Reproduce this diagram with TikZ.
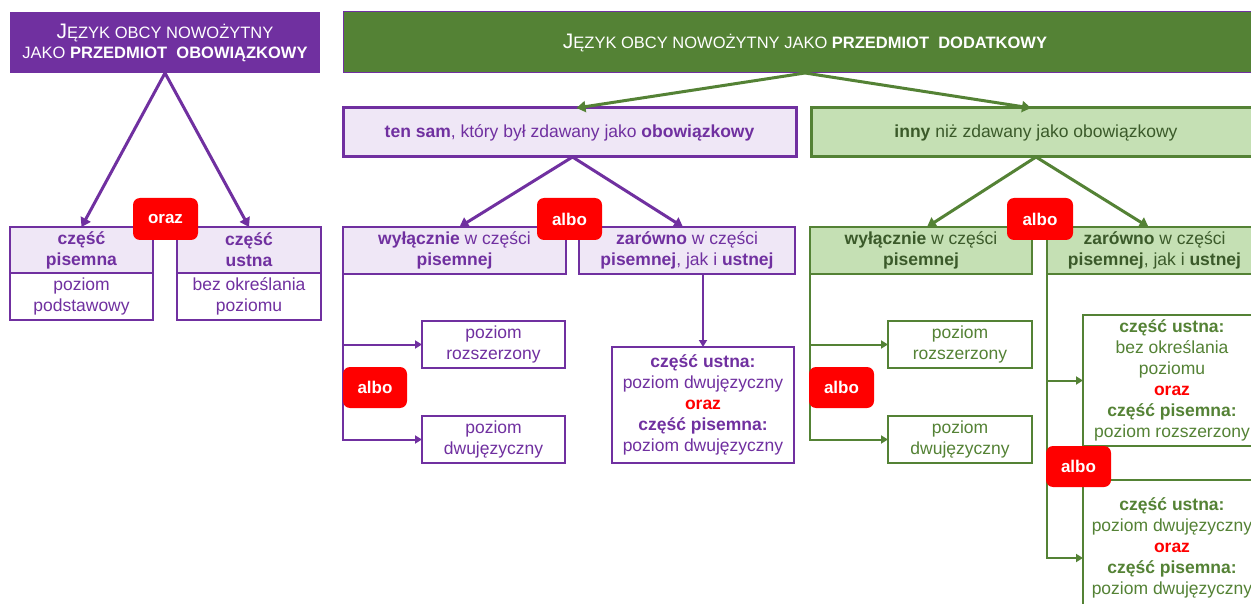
\documentclass[tikz,border=0pt]{standalone}
\usepackage{fontspec}
\setmainfont{Liberation Sans}
\usetikzlibrary{arrows.meta,calc}
\definecolor{pur}{HTML}{7030A0}
\definecolor{grn}{HTML}{548235}
\definecolor{lpur}{HTML}{EFE7F6}
\definecolor{lgrn}{HTML}{C5E0B4}
\definecolor{dgrn}{HTML}{3B5A2A}
\definecolor{redb}{HTML}{FF0000}
\newcommand{\bigJ}{{\fontsize{21}{20}\selectfont J}}
\tikzset{
  base/.style={inner sep=0pt, outer sep=0pt, align=center, anchor=north west,
    font=\fontsize{17.5}{21}\selectfont},
  hdr/.style={base, text=white, font=\fontsize{16.5}{20}\selectfont},
  bigp/.style={base, draw=pur, fill=lpur, text=pur, line width=3pt, font=\fontsize{17.5}{21}\selectfont},
  bigg/.style={base, draw=grn, fill=lgrn, text=dgrn, line width=3pt, font=\fontsize{17.5}{21}\selectfont},
  midp/.style={base, draw=pur, fill=lpur, text=pur, line width=2pt},
  midg/.style={base, draw=grn, fill=lgrn, text=dgrn, line width=2pt},
  smp/.style={base, draw=pur, fill=white, text=pur, line width=1.5pt},
  smg/.style={base, draw=grn, fill=white, text=grn, line width=1.5pt},
  albobox/.style={base, fill=redb, rounded corners=7pt, text=white,
    font=\fontsize{17}{21}\selectfont\bfseries},
  parr/.style={draw=pur, line width=3pt, -{Triangle[length=9pt,width=11pt]}},
  garr/.style={draw=grn, line width=3pt, -{Triangle[length=9pt,width=11pt]}},
  pthin/.style={draw=pur, line width=2pt, -{Triangle[length=7pt,width=8pt]}},
  gthin/.style={draw=grn, line width=2pt, -{Triangle[length=7pt,width=8pt]}},
}
\begin{document}
\begin{tikzpicture}[x=1pt,y=-1pt]
\useasboundingbox (0,0) rectangle (1251,604);
\clip (0,0) rectangle (1251,604);
\fill[white] (0,0) rectangle (1251,604);

% headers
\node[hdr, fill=pur, minimum width=310pt, minimum height=61pt] (hdrL) at (10,12)
  {\bigJ ĘZYK OBCY NOWOŻYTNY\\JAKO \textbf{PRZEDMIOT\ \ OBOWIĄZKOWY}};
\node[hdr, fill=grn, draw=pur, line width=1pt, minimum width=924pt, minimum height=61pt] (hdrR) at (343,12)
  {\bigJ ĘZYK OBCY NOWOŻYTNY JAKO \textbf{PRZEDMIOT\ \ DODATKOWY}};

% level 2
\node[bigp, minimum width=453pt, minimum height=49pt] (ten) at (343,108)
  {\textbf{ten sam}, który był zdawany jako \textbf{obowiązkowy}};
\node[bigg, minimum width=450pt, minimum height=49pt] (inny) at (811,108)
  {\textbf{inny} niż zdawany jako obowiązkowy};

% left column
\node[midp, line width=1.5pt, minimum width=143pt, minimum height=46pt] (cpT) at (10,227)
  {\textbf{część}\\\textbf{pisemna}};
\node[smp, minimum width=143pt, minimum height=47pt] (cpB) at (10,273)
  {poziom\\podstawowy};
\node[midp, line width=1.5pt, minimum width=144pt, minimum height=46pt] (cuT) at (177,227)
  {\textbf{część}\\\textbf{ustna}};
\node[smp, minimum width=144pt, minimum height=47pt] (cuB) at (177,273)
  {bez określania\\poziomu};

% purple level 3
\node[midp, minimum width=223pt, minimum height=47pt] (wylP) at (343,227)
  {\textbf{wyłącznie} w części\\\textbf{pisemnej}};
\node[midp, minimum width=216pt, minimum height=47pt] (zarP) at (579,227)
  {\textbf{zarówno} w części\\\textbf{pisemnej}, jak i \textbf{ustnej}};
\node[smp, minimum width=143pt, minimum height=47pt] (rozP) at (422,321)
  {poziom\\rozszerzony};
\node[smp, minimum width=143pt, minimum height=47pt] (dwuP) at (422,416)
  {poziom\\dwujęzyczny};
\node[smp, minimum width=182pt, minimum height=116pt] (ustP) at (612,347)
  {\textbf{część ustna:}\\poziom dwujęzyczny\\{\color{redb}\textbf{oraz}}\\\textbf{część pisemna:}\\poziom dwujęzyczny};

% green level 3
\node[midg, minimum width=222pt, minimum height=47pt] (wylG) at (810,227)
  {\textbf{wyłącznie} w części\\\textbf{pisemnej}};
\node[midg, minimum width=215pt, minimum height=47pt] (zarG) at (1047,227)
  {\textbf{zarówno} w części\\\textbf{pisemnej}, jak i \textbf{ustnej}};
\node[smg, minimum width=144pt, minimum height=47pt] (rozG) at (888,321)
  {poziom\\rozszerzony};
\node[smg, minimum width=144pt, minimum height=47pt] (dwuG) at (888,416)
  {poziom\\dwujęzyczny};
\node[smg, minimum width=178pt, minimum height=131pt] (b1) at (1083,315)
  {\textbf{część ustna:}\\bez określania\\poziomu\\{\color{redb}\textbf{oraz}}\\\textbf{część pisemna:}\\poziom rozszerzony};
\node[smg, minimum width=178pt, minimum height=136pt] (b2) at (1083,480)
  {\textbf{część ustna:}\\poziom dwujęzyczny\\{\color{redb}\textbf{oraz}}\\\textbf{część pisemna:}\\poziom dwujęzyczny};

% connectors
\draw[parr] (hdrL.south) -- (cpT.north);
\draw[parr] (hdrL.south) -- (cuT.north);
\draw[garr] (hdrR.south) -- ([xshift=7pt]ten.north);
\draw[garr] (hdrR.south) -- ([xshift=-5pt]inny.north);
\draw[parr] ([xshift=3pt]ten.south) -- ([xshift=5pt]wylP.north);
\draw[parr] ([xshift=3pt]ten.south) -- ([xshift=-4pt]zarP.north);
\draw[garr] (inny.south) -- ([xshift=6pt]wylG.north);
\draw[garr] (inny.south) -- ([xshift=-6pt]zarG.north);
\draw[pthin] (wylP.south west) |- (rozP.west);
\draw[pthin] (wylP.south west) |- (dwuP.west);
\draw[pthin] (ustP.north |- zarP.south) -- (ustP.north);
\draw[gthin] (wylG.south west) |- (rozG.west);
\draw[gthin] (wylG.south west) |- (dwuG.west);
\draw[gthin] (zarG.south west) |- (b1.west);
\draw[gthin] (zarG.south west) |- ([yshift=-10pt]b2.west);

% albo / oraz badges
\node[albobox, minimum width=65pt, minimum height=42pt] (oraz) at (133,198) {oraz};
\node[albobox, minimum width=65pt, minimum height=42pt] (alboP1) at (537,198) {albo};
\node[albobox, minimum width=64pt, minimum height=41pt] (alboP2) at (343,367) {albo};
\node[albobox, minimum width=66pt, minimum height=42pt] (alboG1) at (1007,198) {albo};
\node[albobox, minimum width=65pt, minimum height=41pt] (alboG2) at (809,367) {albo};
\node[albobox, minimum width=65pt, minimum height=41pt] (alboG3) at (1046,446) {albo};
\end{tikzpicture}
\end{document}
